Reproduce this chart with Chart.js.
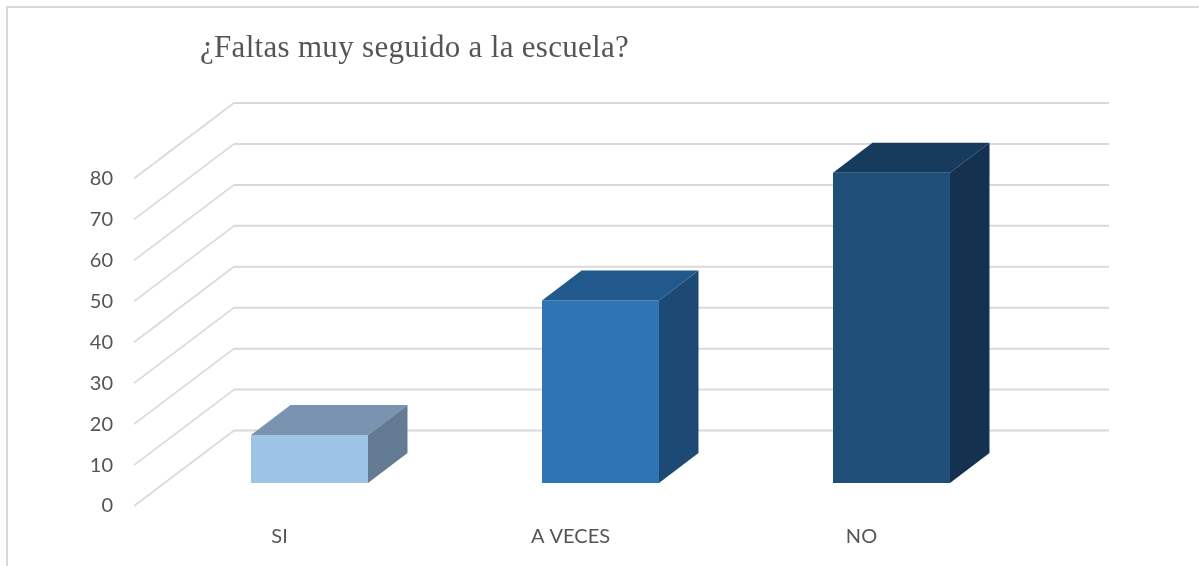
<!DOCTYPE html>
<html>
<head>
<meta charset="utf-8">
<title>¿Faltas muy seguido a la escuela?</title>
<script src="https://cdn.jsdelivr.net/npm/chart.js@4"></script>
<style>
    html, body { margin: 0; padding: 0; background: #ffffff; }
    #wrap { width: 1199px; height: 566px; }
</style>
</head>
<body>
<div id="wrap"><canvas id="chart"></canvas></div>
<script>
// Data
const titleText = "¿Faltas muy seguido a la escuela?";
const categories = ["SI", "A VECES", "NO"];
const values = [11.7, 44.6, 75.8];
const tickValues = [0, 10, 20, 30, 40, 50, 60, 70, 80];

// Colours of the three faces of each bar
const frontColors = ["#9dc3e6", "#2e75b6", "#1f4e79"];
const topColors = ["#7a93b0", "#22598c", "#173b5c"];
const sideColors = ["#647b94", "#1c4a75", "#14324f"];

const gridColor = "#d9d9d9";
const textColor = "#555555";

// Depth of the floor and how far into it the bars stand
const wallDx = 100, wallDy = 75.5;
const barDx = 30, barDy = 23;
const barDepthDx = 39.5, barDepthDy = 30;

// Draws the frame, the back wall and the side faces around the normal bars
const box3d = {
    id: "box3d",
    afterLayout(chart) {
        // title starts at a set x and is spaced out like the original
        const block = chart.titleBlock;
        block.left = 200;
        if (!block.spaced) {
            const draw = block.draw;
            block.draw = function () {
                chart.ctx.save();
                chart.ctx.letterSpacing = "0.3px";
                draw.call(block);
                chart.ctx.restore();
            };
            block.spaced = true;
        }
    },
    beforeDraw(chart) {
        const ctx = chart.ctx;
        ctx.save();
        ctx.fillStyle = "#ffffff";
        ctx.fillRect(0, 0, chart.width, chart.height);
        ctx.strokeStyle = gridColor;
        ctx.lineWidth = 2;
        ctx.beginPath();
        ctx.moveTo(7, chart.height);
        ctx.lineTo(7, 7);
        ctx.lineTo(chart.width, 7);
        ctx.stroke();
        ctx.restore();
    },
    beforeDatasetsDraw(chart) {
        const ctx = chart.ctx;
        const y = chart.scales.y;
        const area = chart.chartArea;
        ctx.save();
        ctx.strokeStyle = gridColor;
        tickValues.forEach(v => {
            const py = y.getPixelForValue(v);
            ctx.lineWidth = 1.6;
            ctx.beginPath();
            ctx.moveTo(area.left, py);
            ctx.lineTo(area.left + wallDx, py - wallDy);
            ctx.stroke();
            ctx.lineWidth = 2;
            ctx.beginPath();
            ctx.moveTo(area.left + wallDx, py - wallDy);
            ctx.lineTo(area.right + wallDx + 2, py - wallDy);
            ctx.stroke();
        });
        ctx.restore();
        // bars stand further back on the floor
        ctx.save();
        ctx.translate(barDx, -barDy);
    },
    afterDatasetsDraw(chart) {
        const ctx = chart.ctx;
        chart.getDatasetMeta(0).data.forEach((bar, i) => {
            const left = bar.x - bar.width / 2;
            const right = bar.x + bar.width / 2;
            // top face
            ctx.fillStyle = topColors[i];
            ctx.beginPath();
            ctx.moveTo(left, bar.y);
            ctx.lineTo(left + barDepthDx, bar.y - barDepthDy);
            ctx.lineTo(right + barDepthDx, bar.y - barDepthDy);
            ctx.lineTo(right, bar.y);
            ctx.closePath();
            ctx.fill();
            // side face
            ctx.fillStyle = sideColors[i];
            ctx.beginPath();
            ctx.moveTo(right, bar.y);
            ctx.lineTo(right + barDepthDx, bar.y - barDepthDy);
            ctx.lineTo(right + barDepthDx, bar.base - barDepthDy);
            ctx.lineTo(right, bar.base);
            ctx.closePath();
            ctx.fill();
        });
        ctx.restore();
    }
};

new Chart(document.getElementById("chart"), {
    type: "bar",
    data: {
        labels: categories,
        datasets: [{
            data: values,
            backgroundColor: frontColors,
            borderWidth: 0,
            categoryPercentage: 1,
            barPercentage: 0.402
        }]
    },
    options: {
        responsive: true,
        maintainAspectRatio: false,
        animation: false,
        layout: { padding: { left: 0, right: 192, top: 0, bottom: 0 } },
        plugins: {
            legend: { display: false },
            tooltip: { enabled: false },
            title: {
                display: true,
                text: titleText,
                align: "start",
                color: textColor,
                font: { family: "'Liberation Serif', serif", size: 31, weight: "normal" },
                padding: { top: 30, bottom: 111.3 }
            }
        },
        scales: {
            x: {
                grid: { display: false, drawTicks: false, tickLength: 0 },
                border: { display: false },
                ticks: {
                    color: textColor,
                    font: { family: "Lato, 'Open Sans', sans-serif", size: 20 },
                    padding: 19,
                    maxRotation: 0
                },
                afterFit(scale) { scale.height = 60; }
            },
            y: {
                min: 0,
                max: 80,
                grid: { display: false, drawTicks: false, tickLength: 0 },
                border: { display: false },
                afterBuildTicks(scale) { scale.ticks = tickValues.map(v => ({ value: v })); },
                ticks: {
                    color: textColor,
                    font: { family: "Lato, 'Open Sans', sans-serif", size: 20 },
                    padding: 21
                },
                afterFit(scale) { scale.width = 134; }
            }
        }
    },
    plugins: [box3d]
});
</script>
</body>
</html>
